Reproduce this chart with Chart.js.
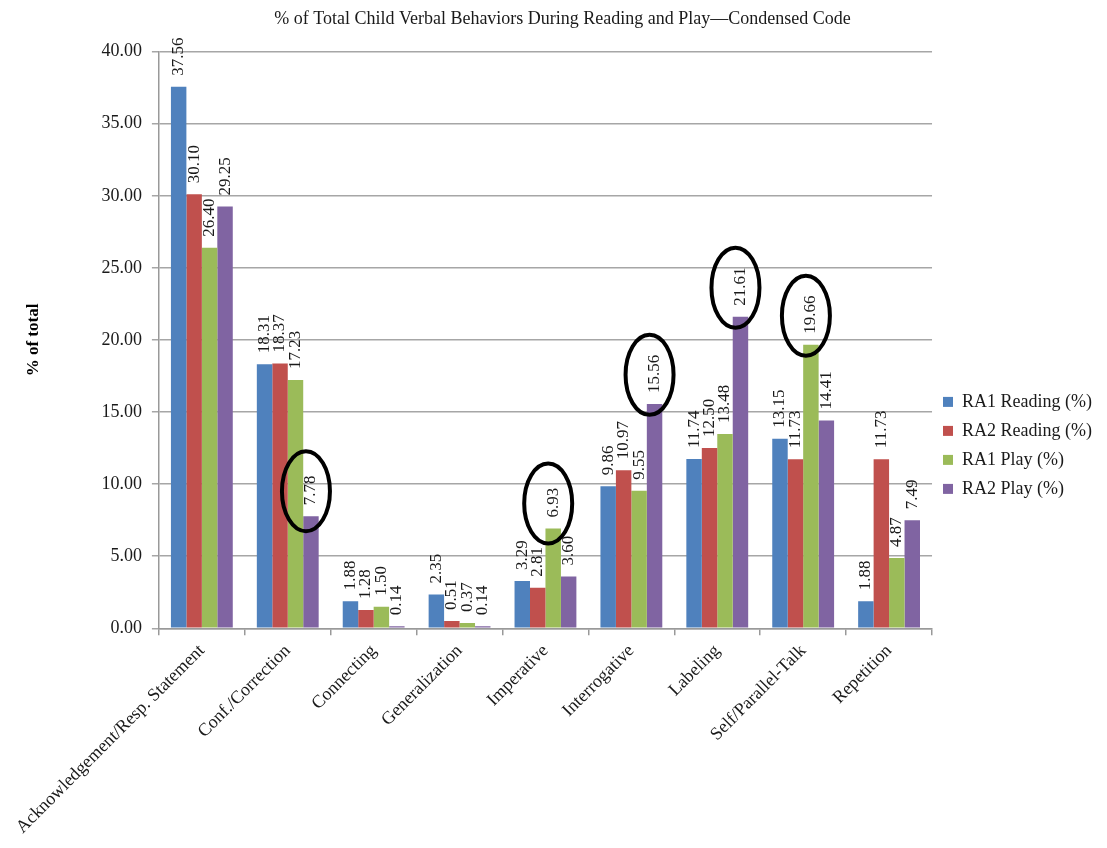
<!DOCTYPE html>
<html>
<head>
<meta charset="utf-8">
<script src="https://cdn.jsdelivr.net/npm/chart.js@4"></script>
<style>
  body { margin: 0; background: #fff; }
</style>
</head>
<body>
<canvas id="behaviorChart" width="1107" height="848"></canvas>
<script>
// categorias del codigo condensado
const categories = [
    'Acknowledgement/Resp. Statement', 'Conf./Correction', 'Connecting',
    'Generalization', 'Imperative', 'Interrogative', 'Labeling',
    'Self/Parallel-Talk', 'Repetition'
];

const ra1Reading = [37.56, 18.31, 1.88, 2.35, 3.29, 9.86, 11.74, 13.15, 1.88];
const ra2Reading = [30.10, 18.37, 1.28, 0.51, 2.81, 10.97, 12.50, 11.73, 11.73];
const ra1Play = [26.40, 17.23, 1.50, 0.37, 6.93, 9.55, 13.48, 19.66, 4.87];
const ra2Play = [29.25, 7.78, 0.14, 0.14, 3.60, 15.56, 21.61, 14.41, 7.49];

const seriesNames = ['RA1 Reading (%)', 'RA2 Reading (%)', 'RA1 Play (%)', 'RA2 Play (%)'];
const yTicks = [0, 5, 10, 15, 20, 25, 30, 35, 40];

// valores marcados con ovalo: [categoria, serie]
const circled = [[1, 3], [4, 2], [5, 3], [6, 3], [7, 2]];

const colores = ['#4F81BD', '#C0504D', '#9BBB59', '#8064A2'];
const serif = '"Liberation Serif", "Times New Roman", serif';

// etiquetas verticales encima de cada barra + ovalos
const valueLabels = {
    id: 'valueLabels',
    afterDatasetsDraw(chart) {
        const ctx = chart.ctx;
        const gap = 11;
        ctx.save();
        ctx.font = '17px ' + serif;
        ctx.fillStyle = '#1a1a1a';
        ctx.textAlign = 'left';
        ctx.textBaseline = 'middle';
        chart.data.datasets.forEach((ds, i) => {
            chart.getDatasetMeta(i).data.forEach((bar, j) => {
                ctx.save();
                ctx.translate(bar.x, bar.y - gap);
                ctx.rotate(-Math.PI / 2);
                ctx.fillText(ds.data[j].toFixed(2), 0, 0);
                ctx.restore();
            });
        });

        ctx.strokeStyle = '#000';
        ctx.lineWidth = 4;
        circled.forEach(([cat, s]) => {
            const bar = chart.getDatasetMeta(s).data[cat];
            const txt = chart.data.datasets[s].data[cat].toFixed(2);
            const w = ctx.measureText(txt).width;
            const cx = bar.x - 5;
            const cy = bar.y - gap - w / 2 + 1;
            ctx.beginPath();
            ctx.ellipse(cx, cy, 24, 40, 0, 0, Math.PI * 2);
            ctx.stroke();
        });
        ctx.restore();
    }
};

function cargarGrafica() {
    const ctx = document.getElementById('behaviorChart');
    new Chart(ctx, {
        type: 'bar',
        data: {
            labels: categories,
            datasets: [ra1Reading, ra2Reading, ra1Play, ra2Play].map((d, i) => ({
                label: seriesNames[i],
                data: d,
                backgroundColor: colores[i],
                borderWidth: 0
            }))
        },
        options: {
            responsive: false,
            animation: false,
            categoryPercentage: 0.72,
            barPercentage: 1.0,
            layout: { padding: { left: 23, right: 5, top: 4, bottom: 5 } },
            plugins: {
                tooltip: { enabled: false },
                title: {
                    display: true,
                    text: '% of Total Child Verbal Behaviors During Reading and Play\u2014Condensed Code',
                    color: '#1a1a1a',
                    font: { family: serif, size: 18, weight: 'normal' },
                    padding: { top: 4, bottom: 22 }
                },
                legend: {
                    position: 'right',
                    title: { display: true, text: '', padding: { top: 27, bottom: 0 }, font: { size: 14 } },
                    labels: {
                        color: '#1a1a1a',
                        font: { family: serif, size: 18 },
                        boxWidth: 10,
                        boxHeight: 10,
                        padding: 11
                    }
                }
            },
            scales: {
                x: {
                    grid: { offset: true, drawOnChartArea: false, drawTicks: true, tickLength: 7, color: '#999', lineWidth: 1.5 },
                    border: { color: '#999', width: 1.5 },
                    ticks: {
                        color: '#1a1a1a',
                        font: { family: serif, size: 18 },
                        minRotation: 45,
                        maxRotation: 45,
                        autoSkip: false,
                        padding: 5
                    }
                },
                y: {
                    min: 0,
                    max: 40,
                    afterBuildTicks: axis => { axis.ticks = yTicks.map(v => ({ value: v })); },
                    grid: { color: '#a6a6a6', lineWidth: 1.5, tickLength: 7 },
                    border: { color: '#999', width: 1.5 },
                    ticks: {
                        color: '#1a1a1a',
                        font: { family: serif, size: 18 },
                        padding: 10,
                        callback: v => Number(v).toFixed(2)
                    },
                    title: {
                        display: true,
                        text: '% of total',
                        color: '#000',
                        font: { family: serif, size: 17, weight: 'bold' },
                        padding: { top: 0, bottom: 48 }
                    }
                }
            }
        },
        plugins: [valueLabels]
    });
}

document.addEventListener('DOMContentLoaded', cargarGrafica);
</script>
</body>
</html>
